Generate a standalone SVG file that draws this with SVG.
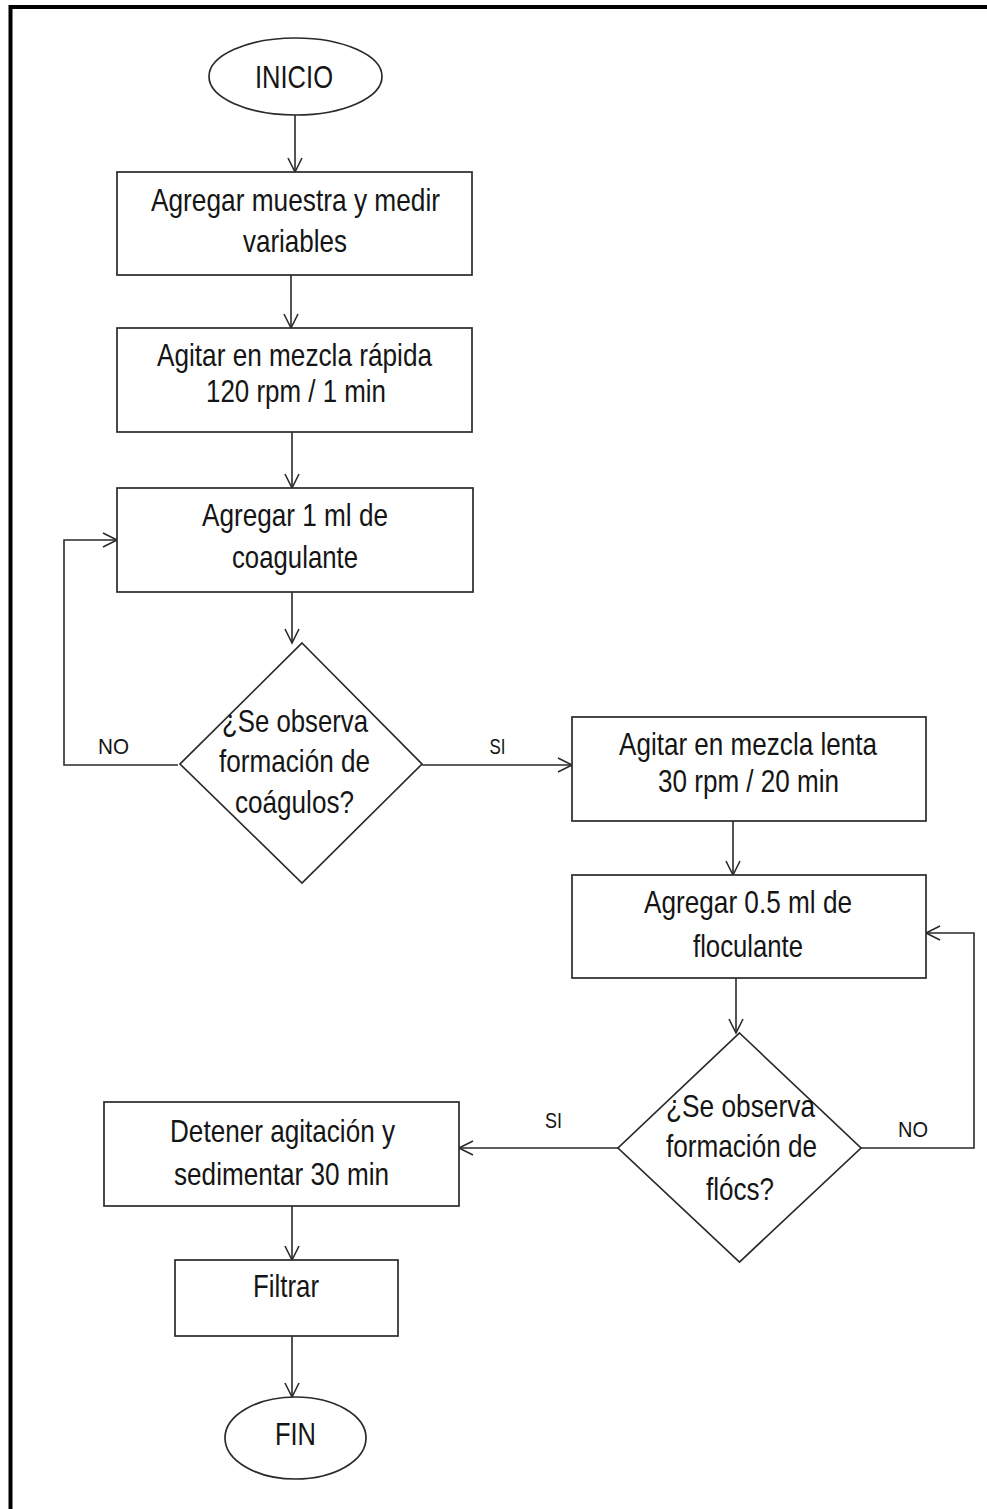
<svg xmlns="http://www.w3.org/2000/svg" width="987" height="1509" viewBox="0 0 987 1509">
  <defs>
    <style>
      .shape { fill: #ffffff; stroke: #2a2a2a; stroke-width: 1.7; }
      .wire { fill: none; stroke: #2a2a2a; stroke-width: 1.6; }
      .t { font-family: "Liberation Sans", Arial, sans-serif; font-size: 30.5px; fill: #151515; text-anchor: middle; }
      .lbl { font-family: "Liberation Sans", Arial, sans-serif; font-size: 22px; fill: #151515; text-anchor: middle; }
    </style>
    <marker id="arr" viewBox="-16 -10 20 20" refX="0" refY="0" markerWidth="20" markerHeight="20" markerUnits="userSpaceOnUse" orient="auto">
      <path d="M-14,-7 L0,0 L-14,7" fill="none" stroke="#2a2a2a" stroke-width="1.6"/>
    </marker>
  </defs>

  <rect x="0" y="0" width="987" height="1509" fill="#ffffff"/>

  <!-- page frame (left and top edges) -->
  <path d="M10.5,1509 V7 H987" fill="none" stroke="#000000" stroke-width="4"/>

  <!-- connectors -->
  <g id="connectors">
    <path class="wire" d="M295,115 V172" marker-end="url(#arr)"/>
    <path class="wire" d="M291,275 V328" marker-end="url(#arr)"/>
    <path class="wire" d="M292,432 V488" marker-end="url(#arr)"/>
    <path class="wire" d="M292,592 V643" marker-end="url(#arr)"/>
    <path class="wire" d="M178,765 H64 V540 H117" marker-end="url(#arr)"/>
    <path class="wire" d="M422,765 H572" marker-end="url(#arr)"/>
    <path class="wire" d="M733,821 V875" marker-end="url(#arr)"/>
    <path class="wire" d="M736,978 V1033" marker-end="url(#arr)"/>
    <path class="wire" d="M861,1148 H974 V933 H926" marker-end="url(#arr)"/>
    <path class="wire" d="M618,1148 H459" marker-end="url(#arr)"/>
    <path class="wire" d="M292,1206 V1260" marker-end="url(#arr)"/>
    <path class="wire" d="M292,1336 V1397" marker-end="url(#arr)"/>
    <text class="lbl" x="113.5" y="754" textLength="31" lengthAdjust="spacingAndGlyphs">NO</text>
    <text class="lbl" x="497.5" y="754" textLength="16" lengthAdjust="spacingAndGlyphs">SI</text>
    <text class="lbl" x="913" y="1137" textLength="30" lengthAdjust="spacingAndGlyphs">NO</text>
    <text class="lbl" x="553.5" y="1128" textLength="17" lengthAdjust="spacingAndGlyphs">SI</text>
  </g>

  <g id="inicio">
    <ellipse class="shape" cx="295.5" cy="76.5" rx="86.5" ry="38.5"/>
    <text class="t" x="294" y="88" textLength="78" lengthAdjust="spacingAndGlyphs">INICIO</text>
  </g>

  <g id="agregar-muestra">
    <rect class="shape" x="117" y="172" width="355" height="103"/>
    <text class="t" x="295.5" y="211" textLength="289" lengthAdjust="spacingAndGlyphs">Agregar muestra y medir</text>
    <text class="t" x="295" y="252" textLength="104" lengthAdjust="spacingAndGlyphs">variables</text>
  </g>

  <g id="mezcla-rapida">
    <rect class="shape" x="117" y="328" width="355" height="104"/>
    <text class="t" x="294.5" y="366" textLength="275" lengthAdjust="spacingAndGlyphs">Agitar en mezcla rápida</text>
    <text class="t" x="296" y="402" textLength="180" lengthAdjust="spacingAndGlyphs">120 rpm / 1 min</text>
  </g>

  <g id="coagulante">
    <rect class="shape" x="117" y="488" width="356" height="104"/>
    <text class="t" x="295" y="526" textLength="186" lengthAdjust="spacingAndGlyphs">Agregar 1 ml de</text>
    <text class="t" x="295" y="568" textLength="126" lengthAdjust="spacingAndGlyphs">coagulante</text>
  </g>

  <g id="decision-coagulos">
    <polygon class="shape" points="302,643 422,764 302,883 180,764"/>
    <text class="t" x="295" y="732" textLength="146" lengthAdjust="spacingAndGlyphs">¿Se observa</text>
    <text class="t" x="294.5" y="772" textLength="151" lengthAdjust="spacingAndGlyphs">formación de</text>
    <text class="t" x="294.5" y="813" textLength="119" lengthAdjust="spacingAndGlyphs">coágulos?</text>
  </g>

  <g id="mezcla-lenta">
    <rect class="shape" x="572" y="717" width="354" height="104"/>
    <text class="t" x="748" y="755" textLength="258" lengthAdjust="spacingAndGlyphs">Agitar en mezcla lenta</text>
    <text class="t" x="748.5" y="792" textLength="181" lengthAdjust="spacingAndGlyphs">30 rpm / 20 min</text>
  </g>

  <g id="floculante">
    <rect class="shape" x="572" y="875" width="354" height="103"/>
    <text class="t" x="748" y="913" textLength="208" lengthAdjust="spacingAndGlyphs">Agregar 0.5 ml de</text>
    <text class="t" x="748" y="957" textLength="110" lengthAdjust="spacingAndGlyphs">floculante</text>
  </g>

  <g id="decision-flocs">
    <polygon class="shape" points="739.5,1033 861,1148 739.5,1262 618,1148"/>
    <text class="t" x="740.5" y="1117" textLength="149" lengthAdjust="spacingAndGlyphs">¿Se observa</text>
    <text class="t" x="741.5" y="1157" textLength="151" lengthAdjust="spacingAndGlyphs">formación de</text>
    <text class="t" x="740" y="1200" textLength="68" lengthAdjust="spacingAndGlyphs">flócs?</text>
  </g>

  <g id="sedimentar">
    <rect class="shape" x="104" y="1102" width="355" height="104"/>
    <text class="t" x="282.5" y="1142" textLength="225" lengthAdjust="spacingAndGlyphs">Detener agitación y</text>
    <text class="t" x="281.5" y="1185" textLength="215" lengthAdjust="spacingAndGlyphs">sedimentar 30 min</text>
  </g>

  <g id="filtrar">
    <rect class="shape" x="175" y="1260" width="223" height="76"/>
    <text class="t" x="286" y="1297" textLength="66" lengthAdjust="spacingAndGlyphs">Filtrar</text>
  </g>

  <g id="fin">
    <ellipse class="shape" cx="295.5" cy="1438" rx="70.5" ry="41"/>
    <text class="t" x="295.5" y="1445" textLength="41" lengthAdjust="spacingAndGlyphs">FIN</text>
  </g>
</svg>
